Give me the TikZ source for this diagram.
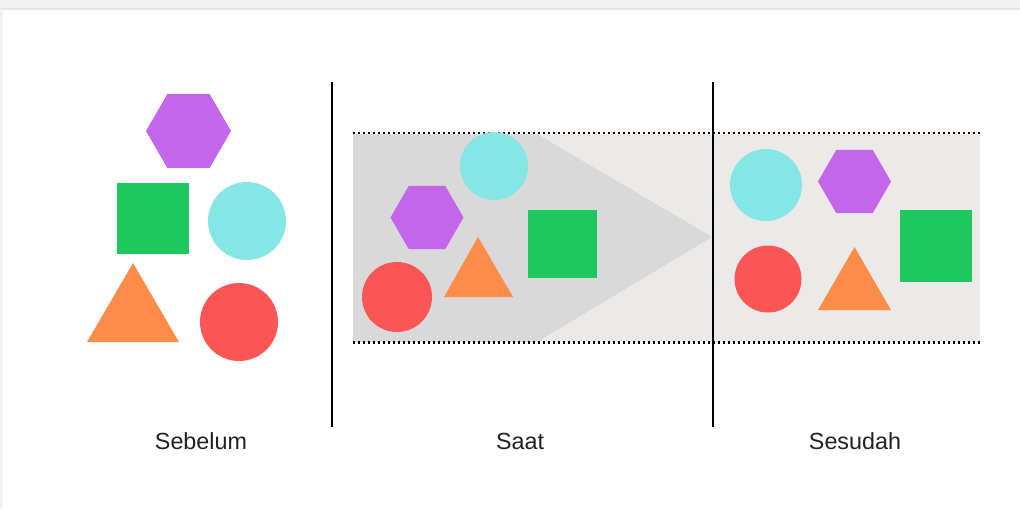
\documentclass[tikz,border=0pt]{standalone}
\usepackage{fontspec}
\setmainfont{Liberation Sans}
\definecolor{hexc}{HTML}{C466E9}
\definecolor{sqc}{HTML}{1DC85F}
\definecolor{cyc}{HTML}{86E6E6}
\definecolor{orc}{HTML}{FC8C47}
\definecolor{rdc}{HTML}{FC5555}
\definecolor{bandlight}{HTML}{ECEAE8}
\definecolor{banddark}{HTML}{D9D9D9}
\definecolor{topband}{HTML}{F2F2F2}
\definecolor{txt}{HTML}{222222}
\tikzset{
  hexs/.style={fill=hexc},
  sqs/.style={fill=sqc},
  cys/.style={fill=cyc},
  ors/.style={fill=orc},
  rds/.style={fill=rdc},
  divider/.style={line width=1.5pt, black},
  dotline/.style={line width=1.8pt, dash pattern=on 1.6pt off 2.15pt, black},
  caption/.style={font=\fontsize{17.5}{20}\selectfont, text=txt, inner sep=0pt}
}
\newcommand\hexshape[3]{\fill[hexs] (#1,#2) +(0:#3) -- +(60:#3) -- +(120:#3) -- +(180:#3) -- +(240:#3) -- +(300:#3) -- cycle;}
\begin{document}
\begin{tikzpicture}[x=0.75pt,y=-0.75pt]
\useasboundingbox (0,0) rectangle (1020,508);
\fill[white] (0,0) rectangle (1020,508);
% page chrome
\fill[topband] (0,0) rectangle (1020,9);
\fill[black!10] (0,8) rectangle (1020,9.5);
\fill[topband] (0,9) rectangle (3,508);
% band
\fill[bandlight] (353,134) rectangle (980,342);
\fill[banddark] (353,134) -- (537,134) -- (712,237) -- (537,342) -- (353,342) -- cycle;
\draw[dotline] (353,133) -- (980,133);
\draw[dotline] (353,342.5) -- (980,342.5);
% dividers
\coordinate (d1t) at (332,82); \coordinate (d1b) at (332,427);
\coordinate (d2t) at (713,82); \coordinate (d2b) at (713,427);
\draw[divider] (d1t) -- (d1b);
\draw[divider] (d2t) -- (d2b);
% Sebelum
\hexshape{188.5}{131}{42.5}
\fill[sqs] (117,183) rectangle (189,254);
\fill[cys] (247,221) circle (39);
\fill[ors] (133,263) -- (87,342) -- (179,342) -- cycle;
\fill[rds] (239,322) circle (39);
% Saat
\fill[cys] (494,166) circle (34);
\hexshape{427}{217.5}{36.5}
\fill[ors] (478,237) -- (444,297) -- (513,297) -- cycle;
\fill[sqs] (528,210) rectangle (597,278);
\fill[rds] (397,297) circle (35);
% Sesudah
\fill[cys] (766,185) circle (36);
\hexshape{854.5}{181.5}{36.5}
\fill[sqs] (900,210) rectangle (972,282);
\fill[rds] (768,279) circle (33.5);
\fill[ors] (854.5,247) -- (818,310) -- (891,310) -- cycle;
% captions
\node[caption] (sebelum) at (201,441) {Sebelum};
\node[caption] (saat) at (520,441) {Saat};
\node[caption] (sesudah) at (855,441) {Sesudah};
\end{tikzpicture}
\end{document}
